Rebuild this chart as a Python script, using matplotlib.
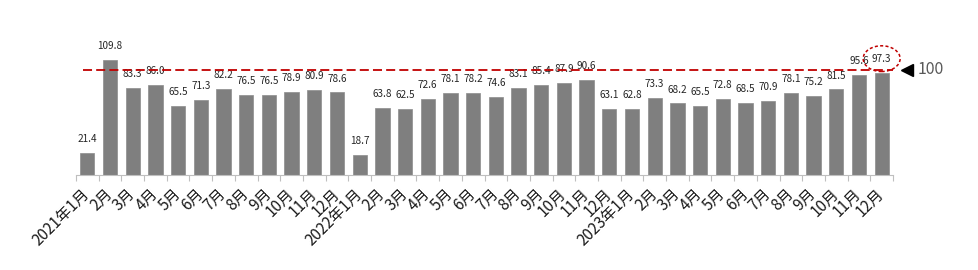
import matplotlib
matplotlib.use("Agg")
import matplotlib.pyplot as plt
from matplotlib.patches import Ellipse
import numpy as np

plt.rcParams['font.family'] = ['Noto Sans CJK SC', 'DejaVu Sans']

categories = ["2021年1月", "2月", "3月", "4月", "5月", "6月", "7月", "8月", "9月", "10月", "11月", "12月",
              "2022年1月", "2月", "3月", "4月", "5月", "6月", "7月", "8月", "9月", "10月", "11月", "12月",
              "2023年1月", "2月", "3月", "4月", "5月", "6月", "7月", "8月", "9月", "10月", "11月", "12月"]
values = [21.4, 109.8, 83.3, 86.0, 65.5, 71.3, 82.2, 76.5, 76.5, 78.9, 80.9, 78.6,
          18.7, 63.8, 62.5, 72.6, 78.1, 78.2, 74.6, 83.1, 85.4, 87.9, 90.6, 63.1,
          62.8, 73.3, 68.2, 65.5, 72.8, 68.5, 70.9, 78.1, 75.2, 81.5, 95.6, 97.3]
reference_level = 100
reference_label = "100"

W, H = 979, 270
fig = plt.figure(figsize=(W / 100, H / 100), dpi=100)
ax = fig.add_axes([76 / W, (H - 175) / H, (893 - 76) / W, (175 - 49) / H])

x = np.arange(len(values))
ax.bar(x, values, width=0.63, color="#7f7f7f", edgecolor="#8c8c8c", linewidth=0.5, zorder=2)
ax.set_xlim(-0.5, len(values) - 0.5)
ax.set_ylim(0, 120)

for xi, v in zip(x, values):
    ax.annotate(f"{v:.1f}", xy=(xi, v), xytext=(0, 10), textcoords="offset points",
                ha="center", va="center", fontsize=7.2, color="#262626", zorder=3)

ax.axhline(reference_level, xmin=(83 - 76) / (893 - 76), xmax=1.0, color="#c00000",
           linestyle=(0, (5, 2.3)), linewidth=1.3, zorder=4)

# highlight ellipse around last label
ax.add_patch(Ellipse((x[-1], values[-1] + 13.5), width=1.63, height=24.5, fill=False,
                     edgecolor="#c00000", linestyle=(0, (2, 1.5)), linewidth=1.1,
                     zorder=5, clip_on=False))

# reference marker
ax.plot([len(values) - 0.5 + 0.62], [reference_level], marker="<", markersize=9,
        color="black", clip_on=False, zorder=5)
ax.text(len(values) - 0.5 + 1.1, reference_level, reference_label, ha="left", va="center",
        fontsize=11.5, color="#595959", clip_on=False)

ax.set_xticks(np.arange(-0.5, len(values), 1.0), minor=False)
ax.set_xticklabels([])
ax.set_xticks(x, minor=True)
ax.set_xticklabels(categories, minor=True, rotation=45, ha="right", va="center",
                   rotation_mode="anchor", fontsize=11, color="#1a1a1a")
ax.tick_params(axis="x", which="major", length=4, color="#bfbfbf", width=0.8)
ax.tick_params(axis="x", which="minor", length=0, pad=12)

for s in ["top", "right", "left"]:
    ax.spines[s].set_visible(False)
ax.spines["bottom"].set_color("#bfbfbf")
ax.spines["bottom"].set_linewidth(0.8)
ax.set_yticks([])

fig.savefig("out.png", dpi=100)
